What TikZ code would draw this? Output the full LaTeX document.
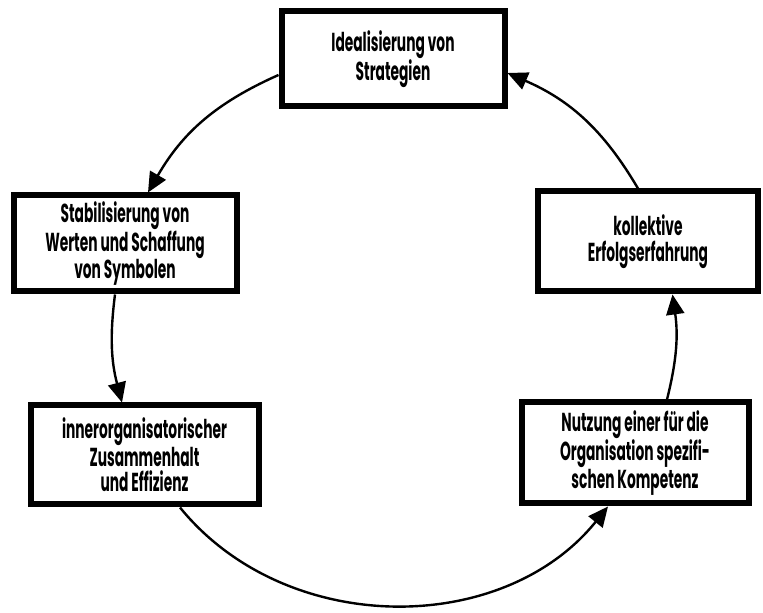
\documentclass[tikz,border=0pt]{standalone}
\usepackage{fontspec}
\setmainfont[FakeStretch=0.53]{Poppins}
\usetikzlibrary{arrows.meta,shadows}
\tikzset{
  box/.style={draw=black, line width=6pt, fill=white, align=center,
    inner sep=0pt, font=\fontsize{26}{25.5}\selectfont\bfseries,
    drop shadow={shadow xshift=2.5pt, shadow yshift=-2.5pt, fill=black, opacity=1}},
  flow/.style={line width=2.4pt, -{Triangle[length=20pt,width=18pt]}}
}
\begin{document}
\begin{tikzpicture}[x=1pt,y=1pt]
\useasboundingbox (0,0) rectangle (763,613);
\node[box, minimum width=223pt, minimum height=95pt] (A) at (393,554) {Idealisierung von\\Strategien};
\node[box, minimum width=223pt, minimum height=96pt] (B) at (125,369.5) {Stabilisierung von\\Werten und Schaffung\\von Symbolen};
\node[box, minimum width=220pt, minimum height=100pt] (C) at (648,371.5) {kollektive\\Erfolgserfahrung};
\node[box, minimum width=228pt, minimum height=99pt] (D) at (144.5,158) {innerorganisatorischer\\Zusammenhalt\\und Effizienz};
\node[box, minimum width=227pt, minimum height=101pt] (E) at (635,160) {Nutzung einer für die\\Organisation spezifi-\\schen Kompetenz};
\draw[flow] ([yshift=-16pt]A.west) to[bend right=18] ([xshift=23pt]B.north);
\draw[flow] ([xshift=-10pt]B.south) to[bend right=11] ([xshift=-22.5pt]D.north);
\draw[flow] ([xshift=35.5pt]D.south) to[bend right=51] ([xshift=-27pt]E.south);
\draw[flow] ([xshift=32pt]E.north) to[bend right=11] ([xshift=24.5pt]C.north |- C.south);
\draw[flow] ([xshift=-10pt]C.north) to[bend right=18] ([yshift=-14pt]A.east);
\end{tikzpicture}
\end{document}
